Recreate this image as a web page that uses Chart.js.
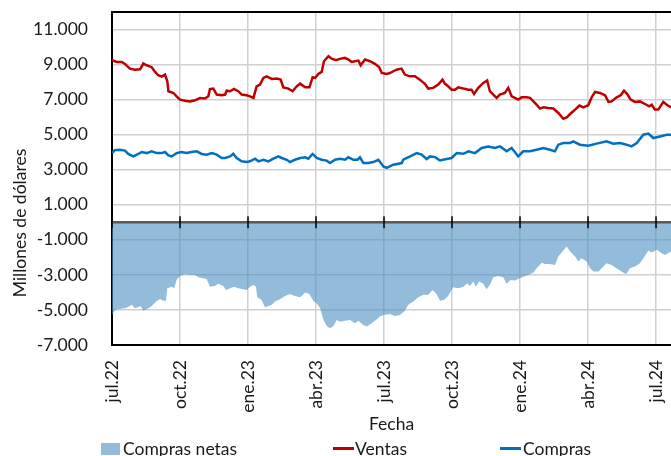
<!DOCTYPE html>
<html>
<head>
<meta charset="utf-8">
<script src="https://cdn.jsdelivr.net/npm/chart.js@4.4.1/dist/chart.umd.min.js"></script>
<style>
  body { margin: 0; background: #fff; }
  #wrap { position: relative; width: 671px; height: 456px; overflow: hidden; font-family: Lato, sans-serif; color: #1a1a1a; }
  .txt { position: absolute; top: 438px; font-size: 17.5px; line-height: 21px; white-space: nowrap; }
  .sw { position: absolute; }
</style>
</head>
<body>
<div id="wrap">
  <canvas id="myChart" width="671" height="456"></canvas>
  <div id="legend"></div>
</div>
<script>
// months counted from jul.22 (0 = 1 jul 2022)
var xTickValues = [0, 3, 6, 9, 12, 15, 18, 21, 24];
var xTickLabels = ['jul.22', 'oct.22', 'ene.23', 'abr.23', 'jul.23', 'oct.23', 'ene.24', 'abr.24', 'jul.24'];
var yTickValues = [-7000, -5000, -3000, -1000, 1000, 3000, 5000, 7000, 9000, 11000];
var yTickLabels = ['-7.000', '-5.000', '-3.000', '-1.000', '1.000', '3.000', '5.000', '7.000', '9.000', '11.000'];
var seriesNames = ['Compras netas', 'Ventas', 'Compras'];

var ventasX = [0, 0.21, 0.43, 0.57, 0.79, 1.01, 1.24, 1.38, 1.53, 1.75, 1.90, 2.04, 2.19, 2.34, 2.44, 2.49, 2.71, 2.85, 3.0, 3.22,
  3.44, 3.66, 3.88, 4.10, 4.25, 4.32, 4.47, 4.62, 4.84, 4.99, 5.06, 5.21, 5.38, 5.57, 5.72, 5.94, 6.09, 6.24, 6.38, 6.53,
  6.68, 6.82, 7.05, 7.27, 7.44, 7.56, 7.78, 7.97, 8.15, 8.30, 8.52, 8.71, 8.85, 8.96, 9.10, 9.25, 9.35, 9.55, 9.69, 9.88,
  10.09, 10.28, 10.43, 10.57, 10.72, 10.87, 10.97, 11.16, 11.38, 11.60, 11.79, 11.90, 12.12, 12.26, 12.41, 12.55, 12.77, 12.92, 13.14, 13.36,
  13.58, 13.80, 13.95, 14.17, 14.39, 14.58, 14.69, 14.83, 14.98, 15.13, 15.27, 15.50, 15.72, 15.86, 15.97, 16.16, 16.38, 16.55, 16.67, 16.82,
  16.97, 17.11, 17.33, 17.48, 17.63, 17.77, 17.92, 18.07, 18.29, 18.44, 18.59, 18.73, 18.88, 19.03, 19.25, 19.47, 19.69, 19.91, 20.06, 20.21,
  20.43, 20.62, 20.79, 21.01, 21.16, 21.31, 21.53, 21.75, 21.90, 22.04, 22.26, 22.44, 22.59, 22.73, 22.88, 23.07, 23.29, 23.51, 23.70, 23.81,
  23.95, 24.10, 24.32, 24.47, 24.66];
var ventasY = [9250, 9150, 9150, 9040, 8770, 8700, 8730, 9060, 8960, 8850, 8580, 8390, 8310, 8430, 8050, 7480, 7380, 7190, 7000, 6940,
  6900, 6960, 7090, 7060, 7190, 7600, 7630, 7290, 7250, 7290, 7510, 7480, 7610, 7480, 7290, 7250, 7190, 7100, 7760, 7860,
  8240, 8330, 8180, 8200, 8140, 7700, 7630, 7480, 7760, 7910, 7700, 7700, 8280, 8240, 8470, 8580, 9190, 9480, 9340, 9250,
  9340, 9380, 9290, 9150, 9190, 9230, 8960, 9290, 9190, 9040, 8850, 8520, 8470, 8520, 8620, 8710, 8770, 8430, 8330, 8330,
  8140, 7900, 7630, 7670, 7860, 8140, 7900, 7760, 7570, 7570, 7700, 7630, 7570, 7570, 7320, 7670, 7950, 8090, 7480, 7290,
  7100, 7290, 7380, 7670, 7190, 7100, 7000, 7130, 7130, 7100, 6900, 6710, 6490, 6560, 6520, 6490, 6240, 5910, 5990, 6180,
  6430, 6660, 6560, 6680, 7130, 7440, 7380, 7250, 6870, 6900, 7130, 7250, 7510, 7320, 7000, 6870, 6900, 6750, 6620, 6710,
  6430, 6430, 6870, 6710, 6560];

var comprasX = [0, 0.13, 0.35, 0.57, 0.72, 0.94, 1.16, 1.31, 1.53, 1.75, 1.97, 2.19, 2.34, 2.49, 2.63, 2.85, 3.07, 3.29, 3.51, 3.74,
  3.96, 4.18, 4.40, 4.62, 4.84, 4.99, 5.21, 5.35, 5.50, 5.72, 5.94, 6.09, 6.31, 6.46, 6.68, 6.90, 7.12, 7.34, 7.49, 7.71,
  7.85, 8.07, 8.30, 8.52, 8.66, 8.85, 9.03, 9.25, 9.47, 9.62, 9.84, 10.06, 10.28, 10.43, 10.65, 10.83, 10.94, 11.09, 11.31, 11.53,
  11.75, 11.90, 11.97, 12.12, 12.41, 12.78, 12.85, 13.15, 13.44, 13.66, 13.88, 14.03, 14.25, 14.47, 14.76, 14.98, 15.21, 15.50, 15.72, 16.01,
  16.31, 16.60, 16.89, 17.12, 17.41, 17.63, 17.92, 18.14, 18.44, 18.73, 19.03, 19.32, 19.54, 19.69, 19.91, 20.20, 20.35, 20.64, 21.01, 21.38,
  21.82, 22.11, 22.41, 22.70, 22.92, 23.15, 23.44, 23.66, 23.88, 24.17, 24.47, 24.66];
var comprasY = [3950, 4120, 4140, 4090, 3900, 3760, 3900, 4010, 3950, 4050, 3950, 3950, 4010, 3820, 3760, 3950, 4010, 3950, 4010, 4050,
  3900, 3860, 3950, 3860, 3670, 3670, 3760, 3910, 3670, 3480, 3440, 3480, 3630, 3480, 3570, 3480, 3630, 3760, 3670, 3570,
  3440, 3570, 3670, 3710, 3630, 3900, 3670, 3570, 3520, 3380, 3570, 3630, 3570, 3710, 3570, 3570, 3710, 3380, 3380, 3440,
  3570, 3320, 3190, 3100, 3290, 3380, 3570, 3760, 3950, 3860, 3610, 3760, 3720, 3530, 3610, 3670, 3950, 3910, 4050, 3950,
  4240, 4330, 4240, 4330, 4050, 4240, 3760, 4050, 4050, 4140, 4240, 4140, 4050, 4430, 4520, 4520, 4620, 4430, 4370, 4490,
  4620, 4490, 4520, 4430, 4330, 4520, 5000, 5060, 4810, 4900, 5000, 5000];

var netasX = [0, 0.13, 0.35, 0.57, 0.79, 0.87, 1.01, 1.16, 1.26, 1.38, 1.53, 1.75, 1.97, 2.12, 2.26, 2.38, 2.44, 2.63, 2.74, 2.85,
  3.0, 3.22, 3.44, 3.66, 3.81, 4.03, 4.18, 4.32, 4.54, 4.69, 4.91, 5.03, 5.21, 5.38, 5.57, 5.79, 5.94, 6.09, 6.24, 6.35,
  6.41, 6.60, 6.75, 6.90, 7.05, 7.19, 7.41, 7.63, 7.85, 8.07, 8.30, 8.52, 8.71, 8.88, 9.03, 9.18, 9.33, 9.47, 9.62, 9.77,
  9.91, 10.06, 10.28, 10.50, 10.72, 10.87, 11.09, 11.24, 11.46, 11.68, 11.82, 11.97, 12.26, 12.48, 12.70, 12.92, 13.07, 13.29, 13.51, 13.73,
  13.95, 14.14, 14.32, 14.47, 14.64, 14.83, 15.05, 15.27, 15.50, 15.67, 15.79, 15.94, 16.05, 16.20, 16.38, 16.52, 16.67, 16.82, 17.04, 17.26,
  17.41, 17.58, 17.77, 18.0, 18.22, 18.44, 18.59, 18.73, 18.96, 19.10, 19.32, 19.54, 19.69, 19.91, 20.06, 20.21, 20.43, 20.57, 20.72, 20.94,
  21.09, 21.24, 21.46, 21.60, 21.82, 22.04, 22.26, 22.48, 22.68, 22.85, 23.07, 23.29, 23.47, 23.66, 23.81, 24.03, 24.25, 24.40, 24.66];
var netasY = [-5290, -5000, -4940, -4900, -4770, -4710, -4900, -4850, -4770, -5040, -4960, -4770, -4490, -4370, -4470, -4470, -3760, -3670, -3760, -3290,
  -3060, -2960, -3000, -3000, -3130, -3190, -3250, -3670, -3630, -3510, -3630, -3860, -3760, -3670, -3760, -3820, -3860, -3670, -3570, -3670,
  -4280, -4430, -4850, -4770, -4710, -4520, -4390, -4200, -4090, -4200, -4280, -4010, -4090, -4470, -4620, -4900, -5570, -5910, -6050, -5910,
  -5570, -5670, -5610, -5570, -5760, -5610, -5860, -5950, -5760, -5530, -5380, -5290, -5230, -5340, -5290, -5040, -4710, -4520, -4280, -4140,
  -4140, -3860, -4090, -4470, -4430, -4200, -3700, -3760, -3670, -3480, -3630, -3380, -3670, -3380, -3510, -3820, -3570, -3130, -3060, -3130,
  -3510, -3290, -3320, -3190, -3060, -2970, -2870, -2620, -2300, -2380, -2380, -2430, -1950, -1610, -1380, -1670, -1950, -2240, -2050, -2240,
  -2620, -2810, -2810, -2620, -2330, -2430, -2620, -2810, -2960, -2620, -2520, -2330, -1990, -1610, -1720, -1570, -1760, -1860, -1670];

function pairs(xs, ys) {
  return xs.map(function (x, i) { return {x: x, y: ys[i]}; });
}

var netColor = 'rgba(74, 144, 194, 0.6)';
var ventasColor = '#c00000';
var comprasColor = '#0070c0';
var textColor = '#1a1a1a';

Chart.defaults.font.family = 'Lato, sans-serif';
Chart.defaults.font.size = 17.5;
Chart.defaults.color = textColor;

// zero line with tick marks, top frame line and y axis title
var framePlugin = {
  id: 'frame',
  afterDatasetsDraw: function (chart) {
    var ctx = chart.ctx, a = chart.chartArea, xs = chart.scales.x, ys = chart.scales.y;
    var y0 = ys.getPixelForValue(0);
    ctx.save();
    ctx.strokeStyle = '#595959';
    ctx.lineWidth = 2.5;
    ctx.beginPath();
    ctx.moveTo(a.left, y0);
    ctx.lineTo(a.right, y0);
    ctx.stroke();
    ctx.strokeStyle = '#000';
    ctx.lineWidth = 1.5;
    ctx.beginPath();
    xTickValues.forEach(function (v) {
      var px = xs.getPixelForValue(v);
      ctx.moveTo(px, y0 - 6);
      ctx.lineTo(px, y0 + 6);
    });
    ctx.stroke();
    ctx.lineWidth = 2;
    ctx.beginPath();
    ctx.moveTo(a.left - 1, a.top);
    ctx.lineTo(a.right, a.top);
    ctx.stroke();
    // y title
    ctx.translate(20, 223);
    ctx.rotate(-Math.PI / 2);
    ctx.fillStyle = textColor;
    ctx.font = '17.5px Lato, sans-serif';
    ctx.textAlign = 'center';
    ctx.textBaseline = 'middle';
    ctx.fillText('Millones de dólares', 0, 0);
    ctx.restore();
  }
};

var ctx = document.getElementById('myChart').getContext('2d');
var myChart = new Chart(ctx, {
  type: 'line',
  data: {
    datasets: [{
      label: seriesNames[0],
      data: pairs(netasX, netasY),
      fill: 'origin',
      backgroundColor: netColor,
      borderWidth: 0,
      pointRadius: 0
    }, {
      label: seriesNames[1],
      data: pairs(ventasX, ventasY),
      fill: false,
      borderColor: ventasColor,
      borderWidth: 2.5,
      pointRadius: 0
    }, {
      label: seriesNames[2],
      data: pairs(comprasX, comprasY),
      fill: false,
      borderColor: comprasColor,
      borderWidth: 2.5,
      pointRadius: 0
    }]
  },
  options: {
    responsive: false,
    animation: false,
    devicePixelRatio: 1,
    layout: { padding: { left: 0, right: 0, top: 12, bottom: 21 } },
    plugins: { legend: { display: false }, tooltip: { enabled: false } },
    scales: {
      x: {
        type: 'linear',
        min: 0,
        max: 24.66,
        afterBuildTicks: function (s) { s.ticks = xTickValues.map(function (v) { return {value: v}; }); },
        afterFit: function (s) {
          s.height = 90;
          s.paddingLeft = 0;
          s.paddingRight = 0;
        },
        ticks: {
          autoSkip: false,
          minRotation: 90,
          maxRotation: 90,
          padding: 15,
          callback: function (v, i) { return xTickLabels[i]; }
        },
        grid: { color: '#d0d0d0', lineWidth: 1.5, drawTicks: false },
        border: { color: '#000', width: 2 },
        title: { display: true, text: 'Fecha', padding: { top: 0, bottom: 0 } }
      },
      y: {
        min: -7000,
        max: 12000,
        afterBuildTicks: function (s) { s.ticks = yTickValues.map(function (v) { return {value: v}; }); },
        afterFit: function (s) {
          s.width = 112;
          s.paddingTop = 0;
          s.paddingBottom = 0;
        },
        ticks: {
          padding: 24,
          callback: function (v, i) { return yTickLabels[i]; }
        },
        grid: { color: '#d0d0d0', lineWidth: 1.5, drawTicks: false },
        border: { color: '#000', width: 2 }
      }
    }
  },
  plugins: [framePlugin]
});

// legend below the chart
var legendItems = [
  { name: seriesNames[0], kind: 'box', color: netColor, sw: 101, text: 123 },
  { name: seriesNames[1], kind: 'line', color: ventasColor, sw: 333, text: 355 },
  { name: seriesNames[2], kind: 'line', color: comprasColor, sw: 500, text: 523 }
];
var legend = document.getElementById('legend');
legendItems.forEach(function (it) {
  var sw = document.createElement('div');
  sw.className = 'sw';
  sw.style.left = it.sw + 'px';
  sw.style.width = (it.kind === 'box' ? 19 : 21) + 'px';
  if (it.kind === 'box') {
    sw.style.top = '443px';
    sw.style.height = '12px';
  } else {
    sw.style.top = '447px';
    sw.style.height = '2.5px';
  }
  sw.style.background = it.color;
  legend.appendChild(sw);
  var t = document.createElement('div');
  t.className = 'txt';
  t.style.left = it.text + 'px';
  t.textContent = it.name;
  legend.appendChild(t);
});
</script>
</body>
</html>
